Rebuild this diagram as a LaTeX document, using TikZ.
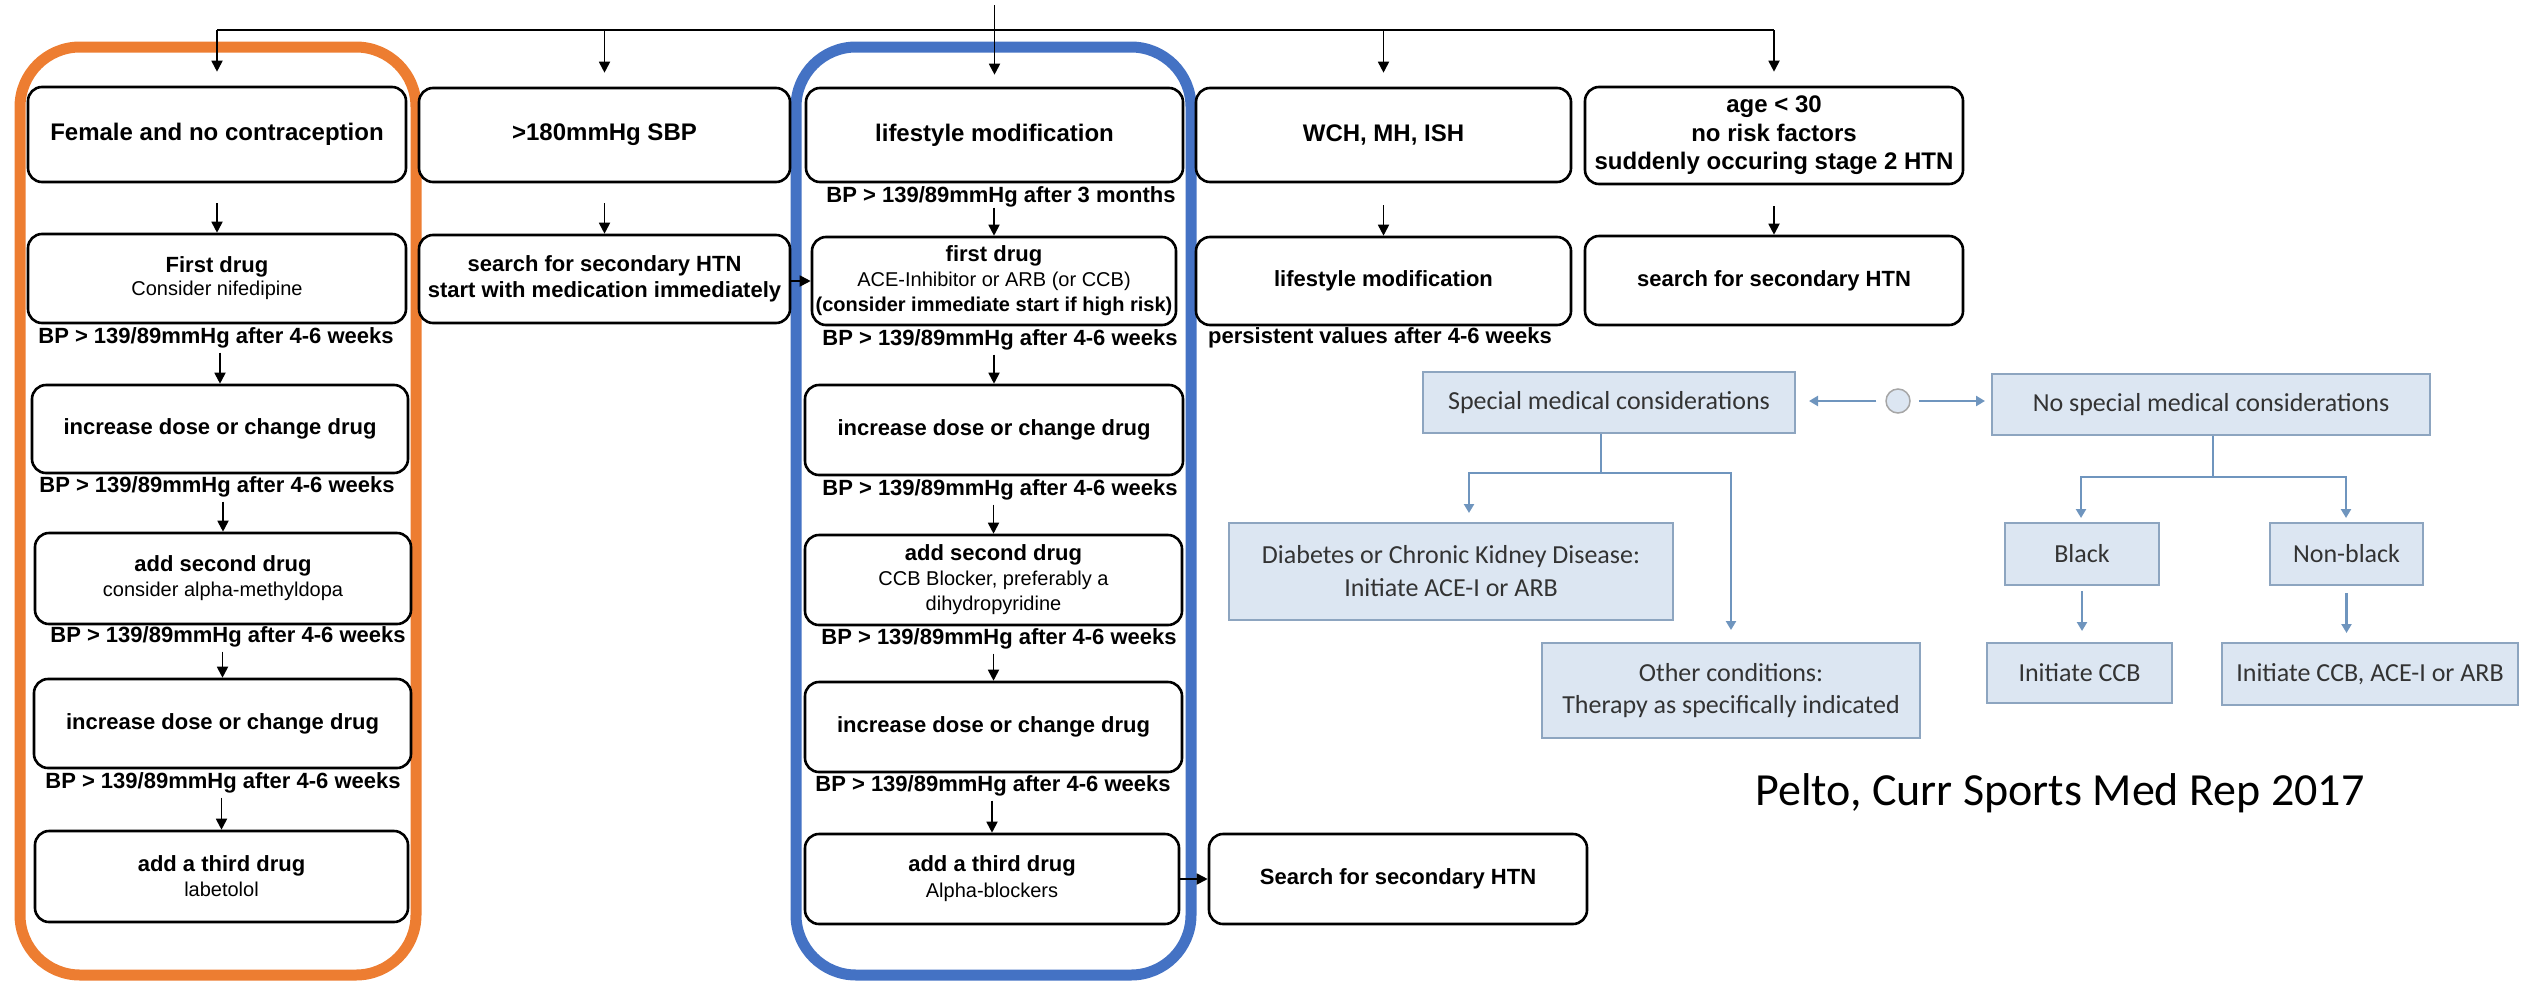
\documentclass[tikz,border=0pt]{standalone}
\usepackage{fontspec}
\setmainfont{Liberation Sans}
\newfontfamily\calfont{Carlito}
\usetikzlibrary{arrows.meta}
\definecolor{orng}{HTML}{ED7D31}
\definecolor{blu}{HTML}{4472C4}
\definecolor{lbfill}{HTML}{DCE6F2}
\definecolor{lbdraw}{HTML}{8DA5C0}
\definecolor{lbline}{HTML}{6F95BE}
\definecolor{lbtext}{HTML}{333333}
\newcommand{\fsz}[2]{\fontsize{#1}{#2}\selectfont}
\begin{document}
\begin{tikzpicture}[x=1pt,y=-1pt,
 bx/.style={draw, line width=2.6pt, rounded corners=14pt, fill=white, align=center, inner sep=0pt, font=\bfseries\fsz{22}{26}},
 lab/.style={inner sep=0pt, font=\bfseries\fsz{22}{26}},
 arr/.style={line width=1.8pt, -{Triangle[length=11pt,width=11pt]}},
 ln/.style={line width=1.8pt},
 frame/.style={line width=11pt, rounded corners=60pt},
 lb/.style={draw=lbdraw, fill=lbfill, line width=2pt, align=center, inner sep=0pt, text=lbtext, font=\calfont\fsz{26}{33}},
 barr/.style={draw=lbline, line width=2.5pt, -{Triangle[length=9pt,width=10pt]}},
 bln/.style={draw=lbline, line width=2.5pt},
]
\useasboundingbox (0,0) rectangle (2526,980);

% frames
\draw[orng, frame] (20,47) rectangle (416,975);
\draw[blu, frame] (796,47) rectangle (1191,975);

% left column
\node[bx, minimum width=378pt, minimum height=95pt, font=\bfseries\fsz{24}{28}] (fem) at (217,134.5) {Female and no contraception};
\node[bx, minimum width=378pt, minimum height=89pt, font=\bfseries\fsz{22}{23}] (fd) at (217,278.5) {First drug\\{\mdseries\fsz{20}{23}Consider nifedipine}};
\node[lab] (L1) at (216,338) {BP > 139/89mmHg after 4-6 weeks};
\node[bx, minimum width=376pt, minimum height=88pt] (inc1) at (220,429) {increase dose or change drug};
\node[lab] (L2) at (217,487) {BP > 139/89mmHg after 4-6 weeks};
\node[bx, minimum width=376pt, minimum height=91pt, font=\bfseries\fsz{22}{25}] (add2) at (223,578.5) {add second drug\\{\mdseries\fsz{20}{25}consider alpha-methyldopa}};
\node[lab] (L3) at (228,637) {BP > 139/89mmHg after 4-6 weeks};
\node[bx, minimum width=377pt, minimum height=89pt] (inc2) at (222.5,723.5) {increase dose or change drug};
\node[lab] (L4) at (223,783) {BP > 139/89mmHg after 4-6 weeks};
\node[bx, minimum width=373pt, minimum height=91pt, font=\bfseries\fsz{22}{25}] (add3) at (221.5,876.5) {add a third drug\\{\mdseries\fsz{20}{25}labetolol}};

% column 2
\node[bx, minimum width=371pt, minimum height=94pt, font=\bfseries\fsz{24}{28}] (sbp) at (604.5,135) {>180mmHg SBP};
\node[bx, minimum width=371pt, minimum height=88pt] (sec1) at (604.5,279) {search for secondary HTN\\start with medication immediately};

% blue column
\node[bx, minimum width=377pt, minimum height=94pt, font=\bfseries\fsz{24}{28}] (lm) at (994.5,135) {lifestyle modification};
\node[lab] (Lb0) at (1001,197) {BP > 139/89mmHg after 3 months};
\node[bx, minimum width=364pt, minimum height=88pt, font=\bfseries\fsz{22}{25}] (fdB) at (994,281) {first drug\\{\mdseries\fsz{20}{25}ACE-Inhibitor or ARB (or CCB)}\\{\fsz{20}{25}(consider immediate start if high risk)}};
\node[lab] (Lb1) at (1000,340) {BP > 139/89mmHg after 4-6 weeks};
\node[bx, minimum width=378pt, minimum height=90pt] (incB1) at (994,430) {increase dose or change drug};
\node[lab] (Lb2) at (1000,490) {BP > 139/89mmHg after 4-6 weeks};
\node[bx, minimum width=377pt, minimum height=90pt, font=\bfseries\fsz{22}{25}] (add2B) at (993.5,580) {add second drug\\{\mdseries\fsz{20}{25}CCB Blocker, preferably a}\\{\mdseries\fsz{20}{25}dihydropyridine}};
\node[lab] (Lb3) at (999,639) {BP > 139/89mmHg after 4-6 weeks};
\node[bx, minimum width=377pt, minimum height=90pt] (incB2) at (993.5,727) {increase dose or change drug};
\node[lab] (Lb4) at (993,786) {BP > 139/89mmHg after 4-6 weeks};
\node[bx, minimum width=374pt, minimum height=90pt, font=\bfseries\fsz{22}{26}] (add3B) at (992,879) {add a third drug\\{\mdseries\fsz{20}{26}Alpha-blockers}};
\node[bx, minimum width=378pt, minimum height=90pt] (secB) at (1398,879) {Search for secondary HTN};

% WCH column
\node[bx, minimum width=375pt, minimum height=94pt, font=\bfseries\fsz{24}{28}] (wch) at (1383.5,135) {WCH, MH, ISH};
\node[bx, minimum width=375pt, minimum height=88pt] (lm2) at (1383.5,281) {lifestyle modification};
\node[lab] (Lw) at (1380,338) {persistent values after 4-6 weeks};

% age column
\node[bx, minimum width=378pt, minimum height=97pt, font=\bfseries\fsz{24}{28.5}] (age) at (1774,135.5) {age < 30\\no risk factors\\suddenly occuring stage 2 HTN};
\node[bx, minimum width=378pt, minimum height=89pt] (sec2) at (1774,280.5) {search for secondary HTN};

% top connectors
\coordinate (stem) at (994.5,5);
\coordinate (bar) at (994.5,30);
\draw[ln] (fem.north |- bar) -- (age.north |- bar);
\draw[arr, shorten >=12pt] (stem) -- (lm.north);
\foreach \n in {fem,sbp,wch,age} \draw[arr, shorten >=14pt] (\n.north |- bar) -- (\n.north);

% second row connectors
\draw[arr, shorten <=20pt] (fem.south) -- (fd.north);
\draw[arr, shorten <=20pt] (sbp.south) -- (sec1.north);
\draw[arr, shorten <=22pt] (wch.south) -- (lm2.north);
\draw[arr, shorten <=21pt] (age.south) -- (sec2.north);
\draw[arr] (Lb0.south -| fdB.north) -- (fdB.north);

% label connectors
\draw[arr, shorten <=4pt] (L1.south -| inc1.north) -- (inc1.north);
\draw[arr, shorten <=4pt] (L2.south -| add2.north) -- (add2.north);
\draw[arr, shorten <=4pt] (L3.south -| inc2.north) -- (inc2.north);
\draw[arr, shorten <=4pt] (L4.south -| add3.north) -- (add3.north);
\draw[arr, shorten <=4pt] (Lb1.south -| incB1.north) -- (incB1.north);
\draw[arr, shorten <=4pt] (Lb2.south -| add2B.north) -- (add2B.north);
\draw[arr, shorten <=4pt] (Lb3.south -| incB2.north) -- (incB2.north);
\draw[arr, shorten <=4pt] (Lb4.south -| add3B.north) -- (add3B.north);

% horizontal connectors
\draw[arr] (sec1.east |- fdB.west) -- (fdB.west);
\draw[arr] (add3B.east) -- (secB.west);

% right part
\node[lb, minimum width=372pt, minimum height=61pt] (smc) at (1609,402.5) {Special medical considerations};
\node[lb, minimum width=438pt, minimum height=61pt] (nsmc) at (2211,404.5) {No special medical considerations};
\node[circle, draw=gray!70, fill=lbfill, line width=1.5pt, minimum size=24pt, inner sep=0pt] (circ) at (1898,401) {};
\draw[barr, shorten <=9pt, shorten >=13pt] (circ.west) -- (circ.west -| smc.east);
\draw[barr, shorten <=8pt, shorten >=6pt] (circ.east) -- (circ.east -| nsmc.west);

\node[lb, minimum width=444pt, minimum height=97pt] (diab) at (1451,571.5) {Diabetes or Chronic Kidney Disease:\\Initiate ACE-I or ARB};
\node[lb, minimum width=378pt, minimum height=95pt, font=\calfont\fsz{26}{32}] (other) at (1731,690.5) {Other conditions:\\Therapy as specifically indicated};
\node[lb, minimum width=154pt, minimum height=62pt] (black) at (2082,554) {Black};
\node[lb, minimum width=153pt, minimum height=62pt] (nonblack) at (2346.5,554) {Non-black};
\node[lb, minimum width=185pt, minimum height=60pt] (iccb) at (2079.5,673) {Initiate CCB};
\node[lb, minimum width=296pt, minimum height=62pt] (iccb2) at (2370,674) {Initiate CCB, ACE-I or ARB};

\coordinate (sj) at (1601,473);
\coordinate (dl) at (1469,513);
\coordinate (dr) at (1731,630);
\draw[bln] (smc.south -| sj) -- (sj);
\draw[barr] (sj) -| (dl);
\draw[barr] (sj) -| (dr);

\coordinate (nj) at (2213,477);
\coordinate (bl) at (2081,518);
\coordinate (nb) at (2346,518);
\draw[bln] (nsmc.south -| nj) -- (nj);
\draw[barr] (nj) -| (bl);
\draw[barr] (nj) -| (nb);
\draw[barr, shorten <=5pt, shorten >=11pt] (black.south) -- (black.south |- iccb.north);
\draw[barr, shorten <=7pt, shorten >=9pt] (nonblack.south) -- (nonblack.south |- iccb2.north);

\node[font=\calfont\fsz{46}{50}, inner sep=0pt] (cite) at (2060,793) {Pelto, Curr Sports Med Rep 2017};
\end{tikzpicture}
\end{document}
